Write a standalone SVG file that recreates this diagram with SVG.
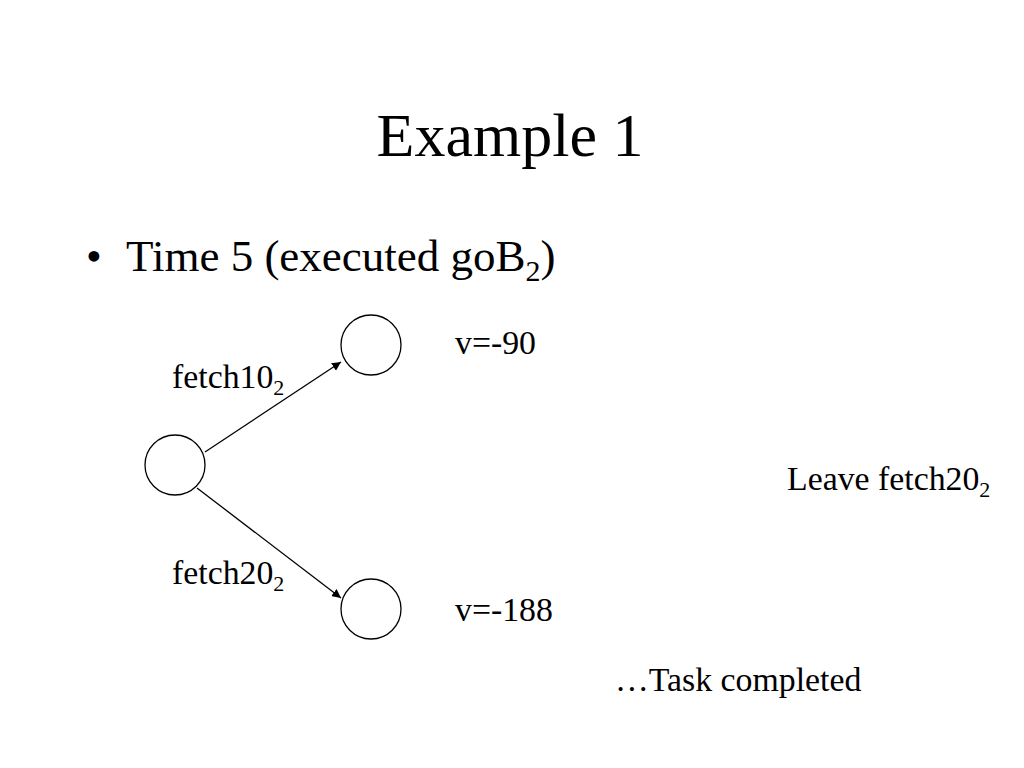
<svg xmlns="http://www.w3.org/2000/svg" width="1024" height="768" viewBox="0 0 1024 768">
<defs>
<style>
text{font-family:"Liberation Serif","Times New Roman",serif;fill:#000}
.lbl{font-size:33.8px}
.sub{font-size:22px}
.node{fill:#fff;stroke:#000;stroke-width:1.3}
.edge{stroke:#000;stroke-width:1.3;fill:none;marker-end:url(#ah)}
</style>
<marker id="ah" viewBox="0 0 10 10" refX="10" refY="5" markerWidth="9" markerHeight="9" markerUnits="userSpaceOnUse" orient="auto">
<path d="M0,0 L10,5 L0,10 z" fill="#000"/>
</marker>
</defs>
<rect width="1024" height="768" fill="#fff"/>
<text x="510" y="156" font-size="62" text-anchor="middle">Example 1</text>
<text x="86" y="271" font-size="45">•</text>
<text x="126" y="271" font-size="45">Time 5 (executed goB<tspan font-size="30" dy="10">2</tspan><tspan dy="-10">)</tspan></text>
<g id="connectors">
<line class="edge" x1="205" y1="452" x2="341" y2="362"/>
<line class="edge" x1="197" y1="488" x2="341" y2="598"/>
</g>
<g id="n0"><circle class="node" cx="175" cy="465" r="30"/></g>
<g id="n1"><circle class="node" cx="371" cy="345" r="30"/></g>
<g id="n2"><circle class="node" cx="371" cy="609" r="30"/></g>
<text class="lbl" x="172" y="388">fetch10<tspan class="sub" dy="7">2</tspan></text>
<text class="lbl" x="172" y="584">fetch20<tspan class="sub" dy="7">2</tspan></text>
<text class="lbl" x="455" y="354">v=-90</text>
<text class="lbl" x="455" y="621">v=-188</text>
<text class="lbl" x="787" y="490">Leave fetch20<tspan class="sub" dy="7">2</tspan></text>
<text class="lbl" x="615" y="691">…Task completed</text>
</svg>
